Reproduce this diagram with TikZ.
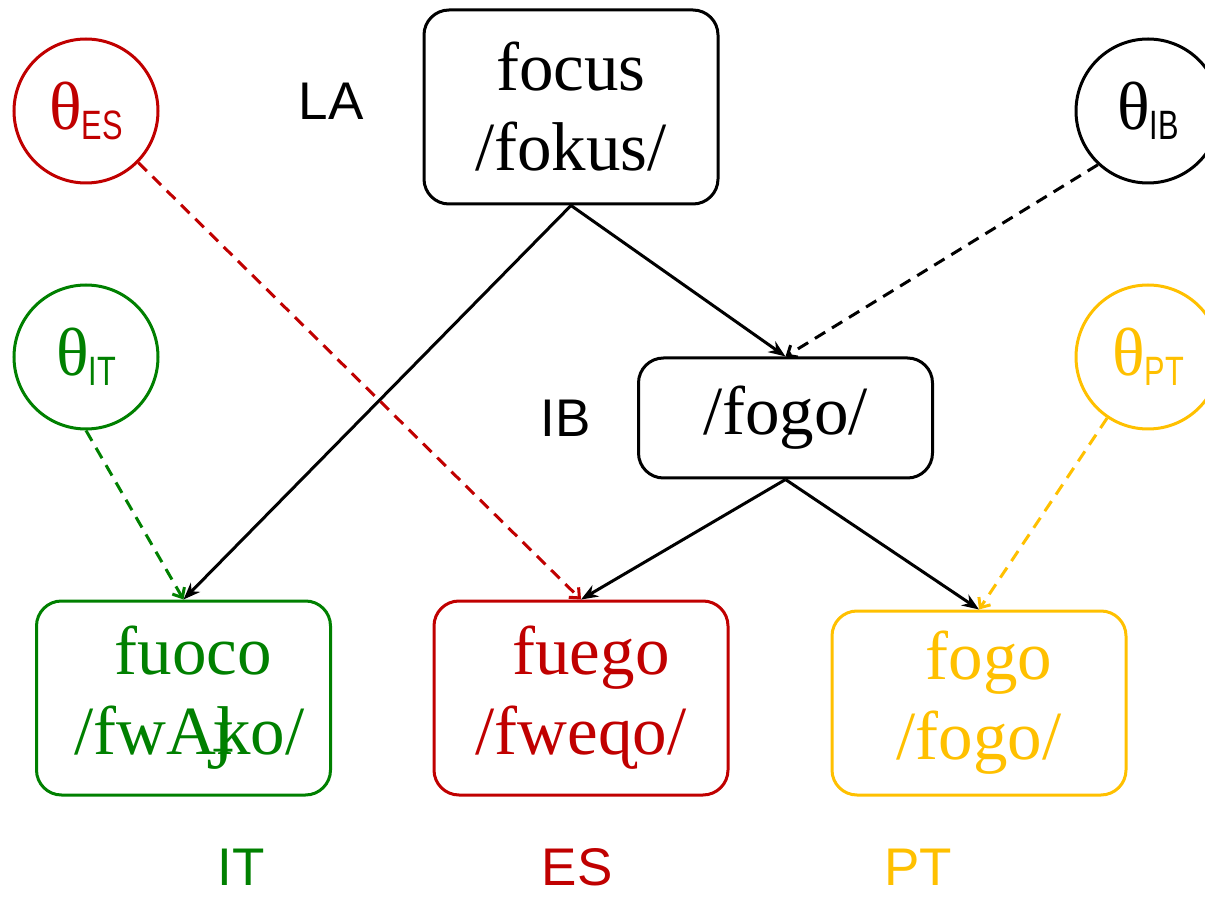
\documentclass[tikz,border=0pt]{standalone}
\usepackage{fontspec}
\setmainfont{Liberation Serif}
\setsansfont{Liberation Sans}
\newfontfamily\subsans[FakeStretch=0.75]{Liberation Sans}
\usetikzlibrary{arrows.meta}
\definecolor{itgreen}{RGB}{0,128,0}
\definecolor{esred}{RGB}{192,0,0}
\definecolor{ptgold}{RGB}{255,192,0}
\newcommand{\thsub}[1]{θ\raisebox{-5pt}{\subsans\fontsize{20.5}{22}\selectfont #1}}

\tikzset{
  word/.style={draw, rounded corners=12.5pt, line width=1.5pt, minimum width=147pt,
    minimum height=97pt, align=center, inner sep=0pt, font=\fontsize{34.5}{40}\selectfont},
  param/.style={draw, circle, line width=1.5pt, minimum size=72pt, inner sep=0pt,
    font=\fontsize{34}{40}\selectfont},
  lang/.style={inner sep=0pt, font=\sffamily\fontsize{26.5}{30}\selectfont},
  descent/.style={line width=1.5pt, -{Stealth[length=8.5pt,width=6.5pt]}},
  bias/.style={line width=1.5pt, dash pattern=on 6pt off 4pt,
    -{Straight Barb[length=4pt,width=7pt]}}
}

\begin{document}
\begin{tikzpicture}[x=0.5pt,y=-0.5pt]
\useasboundingbox (0,0) rectangle (1205,898);
% proto-forms
\node[word] (latin) at (571,107) {focus\\/fokus/};
\node[word, minimum height=60pt] (iberian) at (785.5,418) {/fogo/};
\node[lang] (la) at (331,101) {LA};
\node[lang] (ib) at (566,418) {IB};
% daughters
\node[word, itgreen] (italian) at (183.5,698) {\kern10pt fuoco\\\kern6pt/fwA\makebox[0pt][l]{\kern-2pt ɟ}ko/};
\node[word, esred] (spanish) at (581,698) {\kern10pt fuego\\/fweɋo/};
\node[word, ptgold, minimum height=92pt] (portuguese) at (979,703) {\kern10pt fogo\\/fogo/};
\node[lang, itgreen] (it) at (241,867) {IT};
\node[lang, esred] (es) at (577,867) {ES};
\node[lang, ptgold] (pt) at (918,867) {PT};
% parameters
\node[param, esred] (thES) at (86,111) {\thsub{ES}};
\node[param] (thIB) at (1148,111) {\thsub{IB}};
\node[param, itgreen] (thIT) at (86,357) {\thsub{IT}};
\node[param, ptgold] (thPT) at (1148,357) {\thsub{PT}};
% inheritance
\draw[descent] (latin.south) -- (italian.north);
\draw[descent] (latin.south) -- (iberian.north);
\draw[descent] (iberian.south) -- (spanish.north);
\draw[descent] (iberian.south) -- (portuguese.north);
\draw[bias, esred] (thES) -- (spanish.north);
\draw[bias] (thIB.-133) -- (iberian.north);
\draw[bias, itgreen] (thIT.south) -- (italian.north);
\draw[bias, ptgold] (thPT) -- (portuguese.north);
\end{tikzpicture}
\end{document}
